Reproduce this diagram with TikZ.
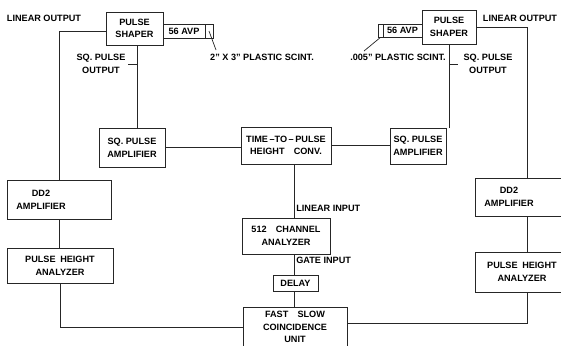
\documentclass[tikz,border=0pt]{standalone}
\usepackage{fontspec}
\setmainfont{Liberation Sans}
\usepackage{tikz}
\newcommand{\blkfont}{\fontsize{6.5}{9}\selectfont\bfseries}
\tikzset{
  blkbox/.style={draw=black!85, line width=0.5pt, inner sep=0pt, align=center, font=\blkfont},
  blktext/.style={inner sep=0pt, align=center, font=\blkfont},
  blkwire/.style={draw=black!85, line width=0.5pt},
}

\begin{document}
\begin{tikzpicture}[x=0.025cm,y=-0.025cm]
\clip (0,0) rectangle (561,345);
\node[blkbox, minimum width=1.425cm, minimum height=0.825cm] (shaperL) at (134.5,28.5) {PULSE\\SHAPER};
\node[blkbox, minimum width=1.05cm, minimum height=0.35cm] (avpL) at (184,31) {56 AVP};
\node[blkbox, minimum width=0.2cm, minimum height=0.35cm] (scintL) at (209,31) {};
\node[blkbox, minimum width=1.35cm, minimum height=0.85cm] (shaperR) at (449,27) {PULSE\\SHAPER};
\node[blkbox, minimum width=0.975cm, minimum height=0.325cm] (avpR) at (402.5,30.5) {56 AVP};
\node[blkbox, minimum width=0.125cm, minimum height=0.325cm] (scintR) at (380.5,30.5) {};
\node[blktext] (linoutL) at (44,18) {LINEAR OUTPUT};
\node[blktext] (linoutR) at (520,18) {LINEAR OUTPUT};
\node[blktext] (sqoutL) at (101,64) {SQ. PULSE\\OUTPUT};
\node[blktext] (sqoutR) at (488,64) {SQ. PULSE\\OUTPUT};
\node[blktext] (scinttxtL) at (262,57) {2" X 3" PLASTIC SCINT.};
\node[blktext] (scinttxtR) at (398,57) {.005" PLASTIC SCINT.};
\coordinate (tipL) at (216,50);
\coordinate (tipR) at (364,51);
\node[blkbox, minimum width=1.65cm, minimum height=0.975cm] (sqampL) at (132,147.5) {SQ. PULSE\\AMPLIFIER};
\node[blkbox, minimum width=2.25cm, minimum height=0.925cm] (tphc) at (286,145.5) {TIME\,--TO\,--\,PULSE\\HEIGHT\quad CONV.};
\node[blkbox, minimum width=1.4cm, minimum height=0.9cm] (sqampR) at (418,146) {SQ. PULSE\\AMPLIFIER};
\node[blkbox, minimum width=2.6cm, minimum height=0.975cm] (dd2L) at (59,199.5) {};
\node[blktext] (dd2Ltxt) at (41,199.5) {DD2\\AMPLIFIER};
\node[blkbox, minimum width=2.6cm, minimum height=0.95cm] (dd2R) at (527,197) {};
\node[blktext] (dd2Rtxt) at (509,197) {DD2\\AMPLIFIER};
\node[blkbox, minimum width=2.65cm, minimum height=0.875cm] (phaL) at (60,265.5) {PULSE\enspace HEIGHT\\ANALYZER};
\node[blkbox, minimum width=2.6cm, minimum height=1cm] (phaR) at (527,272) {};
\node[blktext] (phaRtxt) at (522,272) {PULSE\enspace HEIGHT\\ANALYZER};
\node[blkbox, minimum width=2.2cm, minimum height=0.9cm] (mca) at (286,236) {512\quad CHANNEL\\ANALYZER};
\node[blkbox, minimum width=1.125cm, minimum height=0.4cm] (delay) at (295.5,283) {DELAY};
\node[blkbox, minimum width=2.6cm, minimum height=1cm] (fscu) at (295,327) {FAST\quad SLOW\\COINCIDENCE\\UNIT};
\node[blktext, anchor=west] (lininput) at (296,208) {LINEAR INPUT};
\node[blktext, anchor=west] (gateinput) at (296,260) {GATE INPUT};
\coordinate (col) at (294,0);
\coordinate (sqtapL) at ([xshift=0.06cm]shaperL.south);
\draw[blkwire] (scintL.center) -- (tipL);
\draw[blkwire] (scintR.south) -- (tipR);
\draw[blkwire] ([yshift=-0.08cm]shaperL.west) -| (dd2L.north);
\draw[blkwire] (shaperR.east) -| (dd2R.north);
\draw[blkwire] (sqtapL) -- (sqtapL |- sqampL.north);
\draw[blkwire] (sqtapL |- sqoutL) -- ++(-0.23cm,0);
\draw[blkwire] (shaperR.south) -- (shaperR.south |- sqampR.north);
\draw[blkwire] (shaperR.south |- sqoutR) -- ++(0.23cm,0);
\draw[blkwire] (sqampL.east) -- (sqampL.east -| tphc.west);
\draw[blkwire] (tphc.east) -- (tphc.east -| sqampR.west);
\draw[blkwire] (tphc.south -| col) -- (mca.north -| col);
\draw[blkwire] (mca.south -| col) -- (delay.north -| col);
\draw[blkwire] (delay.south -| col) -- (fscu.north -| col);
\draw[blkwire] (dd2L.south) -- (dd2L.south |- phaL.north);
\draw[blkwire] (dd2R.south) -- (dd2R.south |- phaR.north);
\draw[blkwire] (phaL.south) |- (fscu.west);
\draw[blkwire] (phaR.south) |- ([yshift=0.1cm]fscu.east);
\end{tikzpicture}
\end{document}
